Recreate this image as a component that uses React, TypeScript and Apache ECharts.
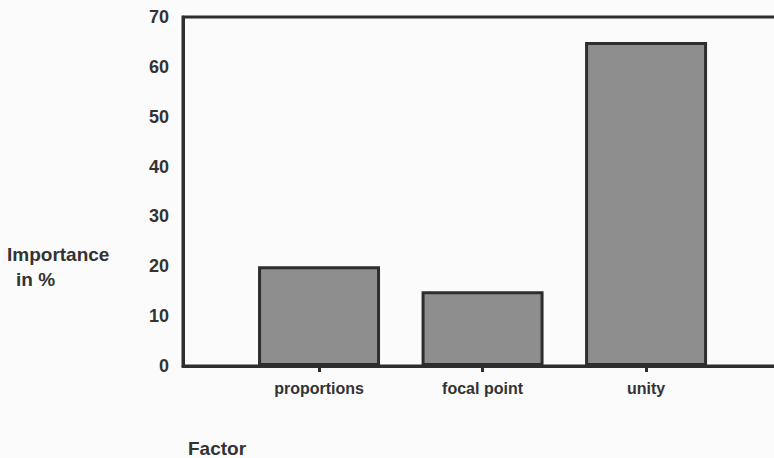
import React, { useEffect, useRef } from "react";
import * as echarts from "echarts";

// Factors and their share of importance (%)
const factors = ["proportions", "focal point", "unity"];
const importance = [20, 15, 65];
const yTicks = [0, 10, 20, 30, 40, 50, 60, 70];
const positions = [1, 2, 3];

const INK = "#2e2e2e";
const TEXT = "#333";
const FONT = "'Liberation Sans', Arial, sans-serif";

export default function App() {
  const ref = useRef<HTMLDivElement>(null);

  useEffect(() => {
    if (!ref.current) return;
    const chart = echarts.init(ref.current, null, { renderer: "svg" });

    const option = {
      animation: false,
      backgroundColor: "#fbfbfb",
      grid: {
        left: 183,
        top: 17,
        bottom: 92,
        right: -40,
        outerBoundsMode: "none",
        containLabel: false,
        show: true,
        borderColor: INK,
        borderWidth: 3,
        backgroundColor: "transparent",
      },
      xAxis: {
        type: "value",
        min: 0.168,
        max: 4.027,
        splitLine: { show: false },
        axisLine: { show: true, lineStyle: { color: INK, width: 3 } },
        axisTick: {
          show: true,
          customValues: positions,
          length: 6,
          lineStyle: { color: INK, width: 3 },
        },
        axisLabel: {
          customValues: positions,
          margin: 14,
          color: TEXT,
          fontFamily: FONT,
          fontWeight: "bold",
          fontSize: 16,
          formatter: (v: number) => factors[Math.round(v) - 1] ?? "",
        },
      },
      yAxis: {
        type: "value",
        min: yTicks[0],
        max: yTicks[yTicks.length - 1],
        interval: 10,
        splitLine: { show: false },
        axisLine: { show: true, lineStyle: { color: INK, width: 3 } },
        axisTick: { show: false },
        axisLabel: {
          margin: 14,
          color: TEXT,
          fontFamily: FONT,
          fontWeight: "bold",
          fontSize: 18,
        },
      },
      series: [
        {
          type: "bar",
          barWidth: 122,
          data: positions.map((p, i) => [p, importance[i]]),
          itemStyle: {
            color: "#8e8e8e",
            borderColor: INK,
            borderWidth: 3,
          },
        },
      ],
      graphic: [
        {
          type: "text",
          x: 7,
          y: 254,
          style: {
            text: "Importance",
            fill: TEXT,
            font: `bold 19px ${FONT}`,
            verticalAlign: "middle",
          },
        },
        {
          type: "text",
          x: 16,
          y: 279,
          style: {
            text: "in %",
            fill: TEXT,
            font: `bold 19px ${FONT}`,
            verticalAlign: "middle",
          },
        },
        {
          type: "text",
          x: 188,
          y: 448,
          style: {
            text: "Factor",
            fill: TEXT,
            font: `bold 19px ${FONT}`,
            verticalAlign: "middle",
          },
        },
      ],
    };

    chart.setOption(option);
    return () => chart.dispose();
  }, []);

  return (
    <div
      ref={ref}
      style={{ position: "absolute", left: 0, top: 0, width: 774, height: 458 }}
    />
  );
}
